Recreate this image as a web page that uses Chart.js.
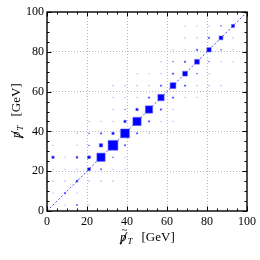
<!DOCTYPE html>
<html>
<head>
<meta charset="utf-8">
<script src="https://cdn.jsdelivr.net/npm/chart.js@4"></script>
<style>
html, body { margin: 0; padding: 0; background: #fff; }
</style>
</head>
<body>
<canvas id="chart" width="260" height="260"></canvas>
<script>
// bin centres (GeV), 6 GeV wide bins
const binCenters = [3, 9, 15, 21, 27, 33, 39, 45, 51, 57, 63, 69, 75, 81, 87, 93];
// rows listed top to bottom
const rowCenters = [93, 87, 81, 75, 69, 63, 57, 51, 45, 39, 33, 27, 21, 15, 9, 3];
const f = 0.5; // very small bins
// bin contents, columns follow binCenters
const counts = [
    [0, 0, 0, 0, 0, 0, 0, 0, 0, 0, 0, f, f, f, 2, 14],
    [0, 0, 0, 0, 0, 0, 0, 0, 0, 0, 0, f, f, 4, 20, f],
    [0, 0, 0, 0, 0, 0, 0, 0, 0, 0, f, f, 4, 25, 2, f],
    [0, 0, 0, 0, 0, 0, 0, 0, 0, f, 2, 4, 30, 2, f, f],
    [0, 0, 0, 0, 0, 0, 0, f, f, f, 4, 30, 2, f, 0, 0],
    [0, 0, 0, 0, 0, f, f, f, f, 4, 42, 4, f, f, f, 0],
    [0, 0, 0, 0, 0, f, f, f, 4, 49, 4, f, f, 0, 0, 0],
    [0, 0, 0, 0, 0, f, 1, 9, 64, 4, f, 0, 0, 0, 0, 0],
    [0, 0, 0, f, f, f, 9, 80, 4, f, f, 0, 0, 0, 0, 0],
    [0, 0, f, 2, 4, 9, 90, 4, f, f, 0, 0, 0, 0, 0, 0],
    [f, 0, f, 2, 16, 110, 4, 0, 0, 0, 0, 0, 0, 0, 0, 0],
    [9, f, 6, 12, 80, 2, f, 0, 0, 0, 0, 0, 0, 0, 0, 0],
    [f, f, f, 12, 3, f, f, 0, 0, 0, 0, 0, 0, 0, 0, 0],
    [f, f, 6, f, f, f, 0, 0, 0, 0, 0, 0, 0, 0, 0, 0],
    [f, 4, f, 0, 0, 0, 0, 0, 0, 0, 0, 0, 0, 0, 0, 0],
    [0, f, 3, f, 0, 0, 0, 0, 0, 0, 0, 0, 0, 0, 0, 0]
];
const diagonal = [0, 100];
const axisMin = 0;
const axisMax = 100;

const points = [];
const weights = [];
rowCenters.forEach((y, r) => {
    binCenters.forEach((x, c) => {
        const w = counts[r][c];
        if (w > 0) {
            points.push({ x: x, y: y });
            weights.push(w);
        }
    });
});

const serif = '"Liberation Serif", "DejaVu Serif", serif';

// box side grows with sqrt of content
function boxRadius(w) {
    if (w < 1) return 0.75;
    const side = Math.max(Math.sqrt(w) - 0.7, 0.6);
    return side / Math.SQRT2;
}

function gridColor(ctx) {
    const v = ctx.tick && ctx.tick.value;
    if (v === axisMin || v === axisMax) return 'rgba(0,0,0,0)';
    return '#b8b8b8';
}

// frame with inward ticks on all sides + axis titles
const framePlugin = {
    id: 'frame',
    afterDraw(chart) {
        const ctx = chart.ctx;
        const a = chart.chartArea;
        const xs = chart.scales.x;
        const ys = chart.scales.y;
        ctx.save();
        ctx.strokeStyle = '#000';
        ctx.lineWidth = 1;
        for (let v = axisMin; v <= axisMax; v += 5) {
            const len = v % 20 === 0 ? 4.5 : 2.5;
            const px = Math.round(xs.getPixelForValue(v)) + 0.5;
            const py = Math.round(ys.getPixelForValue(v)) + 0.5;
            ctx.beginPath();
            ctx.moveTo(px, a.bottom); ctx.lineTo(px, a.bottom - len);
            ctx.moveTo(px, a.top); ctx.lineTo(px, a.top + len);
            ctx.moveTo(a.left, py); ctx.lineTo(a.left + len, py);
            ctx.moveTo(a.right, py); ctx.lineTo(a.right - len, py);
            ctx.stroke();
        }
        ctx.lineWidth = 1.4;
        ctx.strokeRect(a.left, a.top, a.right - a.left, a.bottom - a.top);

        ctx.fillStyle = '#000';
        ctx.textBaseline = 'alphabetic';
        ctx.textAlign = 'left';

        function ptLabel(withTilde) {
            ctx.font = 'italic 13px ' + serif;
            ctx.fillText('p', 0, 0);
            const pw = ctx.measureText('p').width;
            // slash through the p
            ctx.lineWidth = 0.9;
            ctx.beginPath();
            ctx.moveTo(0.5, 3.5);
            ctx.lineTo(pw + 0.5, -9);
            ctx.stroke();
            if (withTilde) {
                ctx.font = '11px ' + serif;
                ctx.fillText('~', 1.5, -8);
            }
            ctx.font = 'italic 9px ' + serif;
            ctx.fillText('T', pw + 1, 3);
            ctx.font = '13px ' + serif;
            ctx.fillText('[GeV]', pw + 15, 0);
        }

        ctx.save();
        ctx.translate(120, 241);
        ptLabel(true);
        ctx.restore();

        ctx.save();
        ctx.translate(20, 138);
        ctx.rotate(-Math.PI / 2);
        ptLabel(false);
        ctx.restore();

        ctx.restore();
    }
};

new Chart(document.getElementById('chart'), {
    type: 'scatter',
    data: {
        datasets: [
            {
                data: points,
                pointStyle: 'rect',
                backgroundColor: (ctx) => weights[ctx.dataIndex] < 1 ? 'rgba(70, 70, 255, 0.55)' : '#0000ff',
                borderColor: 'rgba(90, 90, 255, 0.55)',
                borderWidth: (ctx) => weights[ctx.dataIndex] < 1 ? 0 : 1,
                pointRadius: (ctx) => boxRadius(weights[ctx.dataIndex]),
                pointHoverRadius: (ctx) => boxRadius(weights[ctx.dataIndex]),
                order: 1
            },
            {
                type: 'line',
                data: diagonal.map((v) => ({ x: v, y: v })),
                borderColor: 'rgba(40, 40, 255, 0.85)',
                borderWidth: 1,
                borderDash: [2, 2],
                pointRadius: 0,
                order: 2
            }
        ]
    },
    options: {
        responsive: false,
        animation: false,
        devicePixelRatio: 1,
        layout: {
            padding: { top: 12, right: 12, left: 0, bottom: 0 }
        },
        plugins: {
            legend: { display: false },
            tooltip: { enabled: false }
        },
        scales: {
            x: {
                type: 'linear',
                min: axisMin,
                max: axisMax,
                afterFit: (scale) => { scale.height = 49; },
                ticks: {
                    stepSize: 20,
                    maxRotation: 0,
                    color: '#000',
                    padding: 4,
                    font: { family: serif, size: 12 }
                },
                grid: { color: gridColor, drawTicks: false, lineWidth: 1 },
                border: { display: false, dash: [1, 2] }
            },
            y: {
                type: 'linear',
                min: axisMin,
                max: axisMax,
                afterFit: (scale) => { scale.width = 47; },
                ticks: {
                    stepSize: 20,
                    color: '#000',
                    padding: 3,
                    font: { family: serif, size: 12 }
                },
                grid: { color: gridColor, drawTicks: false, lineWidth: 1 },
                border: { display: false, dash: [1, 2] }
            }
        }
    },
    plugins: [framePlugin]
});
</script>
</body>
</html>
